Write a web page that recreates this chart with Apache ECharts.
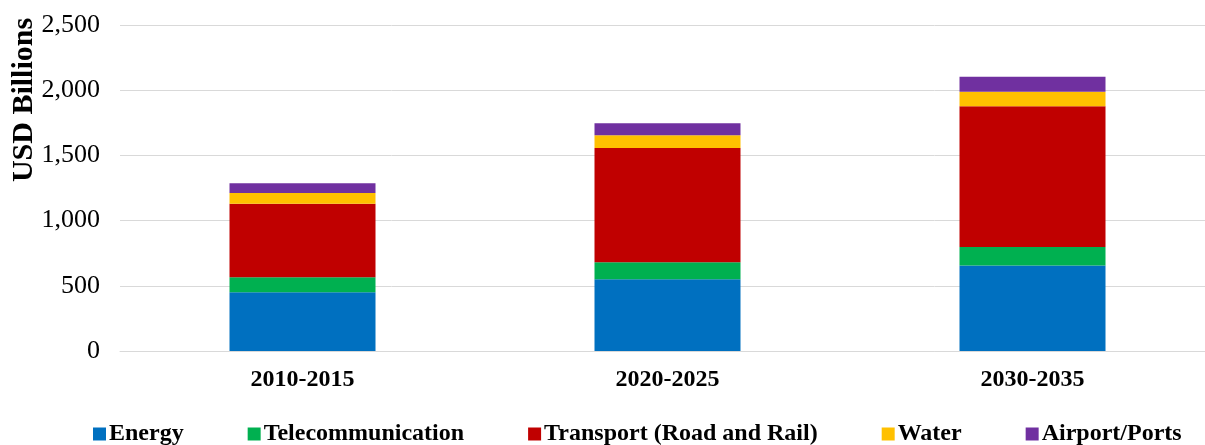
<!DOCTYPE html>
<html>
<head>
<meta charset="utf-8">
<script src="https://cdn.jsdelivr.net/npm/echarts@6/dist/echarts.min.js"></script>
<style>
  html, body { margin: 0; padding: 0; background: #fff; }
  #chart { width: 1205px; height: 445px; }
</style>
</head>
<body>
<div id="chart"></div>
<script>
const categories = ['2010-2015', '2020-2025', '2030-2035']
const energy = [450, 550, 655]
const telecom = [115, 130, 143]
const transport = [565, 877, 1079]
const water = [82, 97, 112]
const airports = [74, 92, 115]
const yTicks = { min: 0, max: 2500, interval: 500 }

const serif = '"Liberation Serif", "Times New Roman", serif'

const chart = echarts.init(document.getElementById('chart'))

const mk = (name, data, color) => ({
  name,
  type: 'bar',
  stack: 'total',
  barWidth: '40%',
  data,
  itemStyle: { color },
  emphasis: { disabled: true }
})

chart.setOption({
  animation: false,
  textStyle: { fontFamily: serif },
  grid: { left: 120, top: 25, width: 1095, height: 326, outerBoundsMode: 'none' },
  legend: {
    left: 88,
    top: 417,
    icon: 'rect',
    itemWidth: 13,
    itemHeight: 13,
    itemGap: 64,
    textStyle: { fontFamily: serif, fontSize: 24, fontWeight: 'bold', color: '#000', padding: [0, 0, 0, -2] },
    data: ['Energy', 'Telecommunication', 'Transport (Road and Rail)', 'Water', 'Airport/Ports']
  },
  graphic: [{
    type: 'text',
    x: 24,
    y: 100,
    rotation: Math.PI / 2,
    style: {
      text: 'USD Billions',
      fontFamily: serif,
      fontSize: 30,
      fontWeight: 'bold',
      fill: '#000',
      align: 'center',
      verticalAlign: 'middle'
    }
  }],
  xAxis: {
    type: 'category',
    data: categories,
    axisTick: { show: false },
    axisLine: { show: true, lineStyle: { color: '#D9D9D9', width: 1 } },
    axisLabel: { color: '#000', fontSize: 24, fontWeight: 'bold', fontFamily: serif, margin: 17 }
  },
  yAxis: {
    type: 'value',
    min: yTicks.min,
    max: yTicks.max,
    interval: yTicks.interval,
    axisLine: { show: false },
    axisTick: { show: false },
    splitLine: { lineStyle: { color: '#D9D9D9', width: 1 } },
    axisLabel: {
      color: '#000',
      fontSize: 26,
      fontFamily: serif,
      margin: 20,
      formatter: v => v.toLocaleString('en-US')
    }
  },
  series: [
    mk('Energy', energy, '#0070C0'),
    mk('Telecommunication', telecom, '#00B050'),
    mk('Transport (Road and Rail)', transport, '#C00000'),
    mk('Water', water, '#FFC000'),
    mk('Airport/Ports', airports, '#7030A0')
  ]
})
</script>
</body>
</html>
